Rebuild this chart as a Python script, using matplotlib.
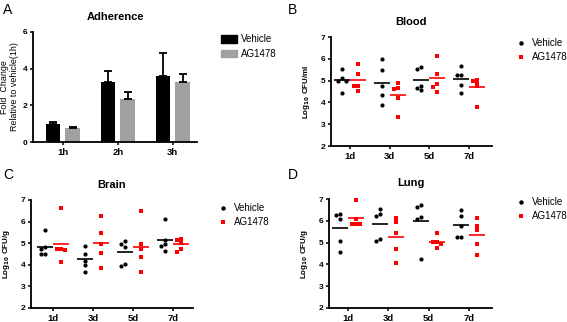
import numpy as np
import matplotlib
matplotlib.use("Agg")
import matplotlib.pyplot as plt
from matplotlib.patches import Patch
from matplotlib.lines import Line2D

plt.rcParams['font.family'] = ['Liberation Sans', 'DejaVu Sans']

# ---------------- data ----------------
groups = ["Vehicle", "AG1478"]
colors = ["#000000", "#FF0000"]
bar_colors = ["#000000", "#A0A0A0"]

adh_cats = ["1h", "2h", "3h"]
adh_vehicle = [0.98, 3.30, 3.60]
adh_vehicle_err = [0.12, 0.60, 1.25]
adh_ag = [0.75, 2.35, 3.25]
adh_ag_err = [0.05, 0.40, 0.45]

days = ["1d", "3d", "5d", "7d"]

blood_vehicle = [[5.52, 5.00, 4.98, 5.12, 4.42],
                 [5.97, 5.47, 4.76, 4.33, 3.90],
                 [5.61, 5.55, 4.76, 4.56, 4.64],
                 [5.66, 5.26, 5.26, 4.81, 4.42]]
blood_ag = [[5.77, 5.29, 4.53, 4.73, 4.73],
            [4.89, 4.61, 4.67, 4.22, 3.34],
            [6.15, 5.32, 4.47, 4.85, 4.70],
            [5.04, 4.96, 4.89, 4.73, 3.80]]

brain_vehicle = [[5.62, 4.83, 4.74, 4.49, 4.49],
                 [4.89, 4.52, 4.17, 3.99, 3.68],
                 [5.09, 4.97, 4.83, 3.94, 4.05],
                 [6.11, 5.14, 4.89, 4.98, 4.63]]
brain_ag = [[6.62, 4.68, 4.72, 4.75, 4.13],
            [6.24, 5.47, 4.98, 4.55, 3.83],
            [6.50, 4.94, 4.71, 4.37, 3.67],
            [5.14, 5.21, 5.01, 4.61, 4.74]]

lung_vehicle = [[6.32, 6.25, 6.08, 5.09, 4.58],
                [6.54, 6.32, 6.23, 5.09, 5.17],
                [6.74, 6.62, 6.17, 6.09, 4.25],
                [6.51, 6.20, 5.25, 5.25, 5.77]]
lung_ag = [[6.97, 6.08, 5.85, 5.85, 5.85],
           [6.12, 5.94, 5.43, 4.71, 4.08],
           [5.46, 5.05, 5.05, 4.94, 4.74],
           [6.12, 5.78, 5.58, 4.94, 4.43]]

W, H = 567, 322
fig = plt.figure(figsize=(W / 100, H / 100), dpi=100)


def px_axes(l, t, r, b):
    return fig.add_axes([l / W, 1 - b / H, (r - l) / W, (b - t) / H])


def style(ax):
    for s in ["top", "right"]:
        ax.spines[s].set_visible(False)
    for s in ["left", "bottom"]:
        ax.spines[s].set_linewidth(1.3)
    ax.tick_params(axis="both", length=2.5, width=1.1, direction="out", pad=1.5)
    for lab in ax.get_yticklabels():
        lab.set_fontsize(6)
        lab.set_fontweight("bold")
    for lab in ax.get_xticklabels():
        lab.set_fontsize(6.8)
        lab.set_fontweight("bold")


def swarm(vals, d, thr):
    placed = []
    order = np.argsort(vals)[::-1]
    offs = np.zeros(len(vals))
    for i in order:
        for c in [0, -d, d, -2 * d, 2 * d]:
            ok = all(not (abs(c - offs[j]) < d * 0.9 and abs(vals[i] - vals[j]) < thr) for j in placed)
            if ok:
                offs[i] = c
                break
        placed.append(i)
    return offs


# ---------------- Panel A ----------------
axA = px_axes(33, 32, 197, 142)
x = np.arange(len(adh_cats))
bw = 0.27
off = 0.18
axA.bar(x - off, adh_vehicle, bw, color=bar_colors[0], label=groups[0])
axA.bar(x + off, adh_ag, bw, color=bar_colors[1], label=groups[1])
axA.errorbar(x - off, adh_vehicle, yerr=[np.zeros(3), adh_vehicle_err], fmt="none",
             ecolor=bar_colors[0], elinewidth=1.3, capsize=3, capthick=1.3)
axA.errorbar(x + off, adh_ag, yerr=[np.zeros(3), adh_ag_err], fmt="none",
             ecolor="#000000", elinewidth=1.3, capsize=3, capthick=1.3)
axA.set_xlim(-0.545, 2.44)
axA.set_ylim(0, 6)
axA.set_yticks([0, 2, 4, 6])
axA.set_xticks(x)
axA.set_xticklabels(adh_cats)
axA.set_title("Adherence", fontsize=8, fontweight="bold", pad=9)
axA.set_ylabel("Fold  Change\nRelative to vehicle(1h)", fontsize=6.4, labelpad=3, linespacing=1.05)
style(axA)
axA.legend(handles=[Patch(color=bar_colors[0]), Patch(color=bar_colors[1])], labels=groups,
           loc="upper left", bbox_to_anchor=(221 / W, 1 - 34 / H), bbox_transform=fig.transFigure,
           frameon=False, fontsize=7, handlelength=1.6, handleheight=0.85, handletextpad=0.5,
           labelspacing=0.5, borderpad=0, borderaxespad=0)


# ---------------- scatter panels ----------------
def scatter_panel(l, t, r, b, title, ylabel, veh, ag, xl, xr):
    ax = px_axes(l, t, r, b)
    for gi, (data, col, mk) in enumerate([(veh, colors[0], "o"), (ag, colors[1], "s")]):
        sign = -1 if gi == 0 else 1
        for di, vals in enumerate(data):
            vals = np.array(vals)
            c = di + sign * 0.2
            xs = c + swarm(vals, 0.1, 0.15)
            ax.scatter(xs, vals, marker=mk, s=9 if mk == "o" else 8, color=col,
                       linewidths=0, zorder=3, clip_on=False)
            m = vals.mean()
            ax.plot([c - 0.2, c + 0.2], [m, m], color=col, lw=1.2, zorder=2,
                    solid_capstyle="butt")
    ax.set_xlim(xl, xr)
    ax.set_ylim(2, 7)
    ax.set_yticks([2, 3, 4, 5, 6, 7])
    ax.set_xticks(range(len(days)))
    ax.set_xticklabels(days)
    ax.set_title(title, fontsize=8, fontweight="bold", pad=9)
    ax.set_ylabel(ylabel, fontsize=5.8, fontweight="bold", labelpad=6)
    style(ax)
    return ax


def scatter_legend(ax, x0, y0):
    hs = [Line2D([], [], ls="none", marker="o", color=colors[0], markersize=3.2, markeredgewidth=0),
          Line2D([], [], ls="none", marker="s", color=colors[1], markersize=3.0, markeredgewidth=0)]
    ax.legend(handles=hs, labels=groups, loc="upper left", bbox_to_anchor=(x0 / W, 1 - y0 / H),
              bbox_transform=fig.transFigure, frameon=False, fontsize=7, handlelength=1.0,
              handletextpad=0.6, labelspacing=0.45, borderpad=0, borderaxespad=0)


axB = scatter_panel(331, 37, 492, 146, "Blood", r"Log$_{\mathbf{10}}$ CFU/ml",
                    blood_vehicle, blood_ag, -0.48, 3.58)
scatter_legend(axB, 516, 38)

axC = scatter_panel(31, 200, 193, 308, "Brain", r"Log$_{\mathbf{10}}$ CFU/g",
                    brain_vehicle, brain_ag, -0.55, 3.5)
scatter_legend(axC, 218, 203)

axD = scatter_panel(329, 199, 492, 308, "Lung", r"Log$_{\mathbf{10}}$ CFU/g",
                    lung_vehicle, lung_ag, -0.48, 3.58)
scatter_legend(axD, 516, 197)

# panel letters
for letter, (px, py) in zip("ABCD", [(3, 10), (288, 10), (3, 175), (288, 175)]):
    fig.text(px / W, 1 - py / H, letter, fontsize=10, va="center", ha="left")

fig.savefig("out.png", dpi=100)
